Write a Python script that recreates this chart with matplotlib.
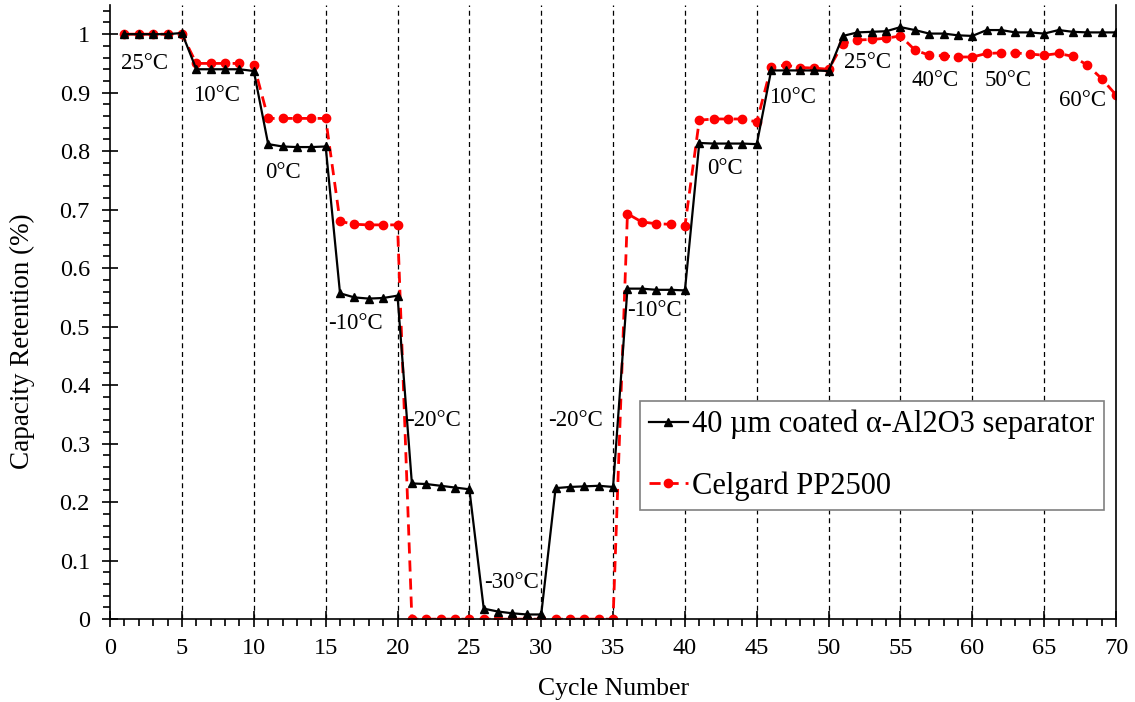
import matplotlib.pyplot as plt
import numpy as np

plt.rcParams['font.family'] = ['Liberation Serif', 'DejaVu Serif']

cycles = list(range(1, 71))

alumina = [1.0, 1.0, 1.0, 1.0, 1.002,
           0.94, 0.94, 0.94, 0.94, 0.937,
           0.812, 0.808, 0.807, 0.807, 0.808,
           0.557, 0.55, 0.548, 0.549, 0.553,
           0.232, 0.231, 0.228, 0.225, 0.222,
           0.018, 0.013, 0.01, 0.008, 0.008,
           0.224, 0.226, 0.227, 0.228, 0.226,
           0.565, 0.565, 0.563, 0.563, 0.562,
           0.814, 0.813, 0.813, 0.813, 0.812,
           0.938, 0.938, 0.938, 0.938, 0.937,
           0.997, 1.003, 1.004, 1.005, 1.012,
           1.007, 1.001, 1.001, 0.998, 0.997,
           1.007, 1.007, 1.003, 1.003, 1.001,
           1.007, 1.004, 1.003, 1.003, 1.003]

celgard = [1.0, 1.0, 1.0, 1.0, 1.0,
           0.95, 0.95, 0.95, 0.95, 0.948,
           0.856, 0.856, 0.856, 0.856, 0.856,
           0.68, 0.675, 0.674, 0.674, 0.674,
           0, 0, 0, 0, 0,
           0, 0, 0, 0, 0,
           0, 0, 0, 0, 0,
           0.693, 0.679, 0.676, 0.675, 0.672,
           0.853, 0.855, 0.855, 0.855, 0.850,
           0.944, 0.947, 0.943, 0.942, 0.940,
           0.984, 0.99, 0.991, 0.993, 0.997,
           0.973, 0.964, 0.963, 0.961, 0.961,
           0.967, 0.968, 0.968, 0.966, 0.964,
           0.967, 0.962, 0.947, 0.924, 0.896]

temp_labels = ['25°C', '10°C', '0°C', '-10°C', '-20°C', '-30°C', '-20°C',
               '-10°C', '0°C', '10°C', '25°C', '40°C', '50°C', '60°C']
label_x = [2.4, 7.4, 12.0, 17.1, 22.5, 27.9, 32.4, 37.9, 42.8, 47.5, 52.7, 57.4, 62.5, 67.7]
label_y = [0.95, 0.896, 0.764, 0.506, 0.34, 0.063, 0.34, 0.528, 0.771, 0.892, 0.952, 0.921, 0.921, 0.887]

fig = plt.figure(figsize=(11.35, 7.02), dpi=100)
ax = fig.add_axes([0.097, 0.118, 0.8863, 0.875])

for xv in range(5, 70, 5):
    ax.axvline(xv, color='black', ls=(0, (4, 3)), lw=0.9, zorder=1)

ax.plot(cycles, alumina, '-', color='black', marker='^', ms=6, lw=1.6,
        label='40 µm coated α-Al2O3 separator', zorder=3)
ax.plot(cycles, celgard, '--', color='red', marker='o', ms=6, lw=2,
        dashes=(4, 2.5), label='Celgard PP2500', zorder=2)

for t, xv, yv in zip(temp_labels, label_x, label_y):
    ax.text(xv, yv, t, ha='center', va='center', fontsize=16.5)

ax.set_xlim(0, 70)
ax.set_ylim(0, 1.05)
ax.set_xticks(range(0, 71, 5))
ax.set_xticks(range(0, 71), minor=True)
ax.set_yticks(np.arange(0, 1.01, 0.1))
ax.set_yticks(np.arange(0, 1.05, 0.02), minor=True)
ax.set_yticklabels(['0', '0.1', '0.2', '0.3', '0.4', '0.5', '0.6', '0.7', '0.8', '0.9', '1'])
ax.tick_params(which='major', direction='inout', length=11, width=1.2, labelsize=17.5, pad=8)
ax.tick_params(axis='y', which='major', pad=9)
ax.tick_params(which='minor', direction='out', length=5, width=1.2)
ax.spines['top'].set_visible(False)
for s in ['left', 'bottom', 'right']:
    ax.spines[s].set_linewidth(1.2)

ax.set_xlabel('Cycle Number', fontsize=18.5)
ax.set_ylabel('Capacity Retention (%)', fontsize=19.5)
ax.xaxis.set_label_coords(0.5, -0.096)
ax.yaxis.set_label_coords(-0.0745, 0.453)

leg = ax.legend(loc='lower left', bbox_to_anchor=(0.527, 0.1775), fontsize=22,
                fancybox=False, edgecolor='gray', framealpha=1, borderaxespad=0,
                handlelength=1.25, handletextpad=0.15, borderpad=0.3, labelspacing=1.05)
leg.get_frame().set_linewidth(1.2)

plt.savefig('out.png', dpi=100)
